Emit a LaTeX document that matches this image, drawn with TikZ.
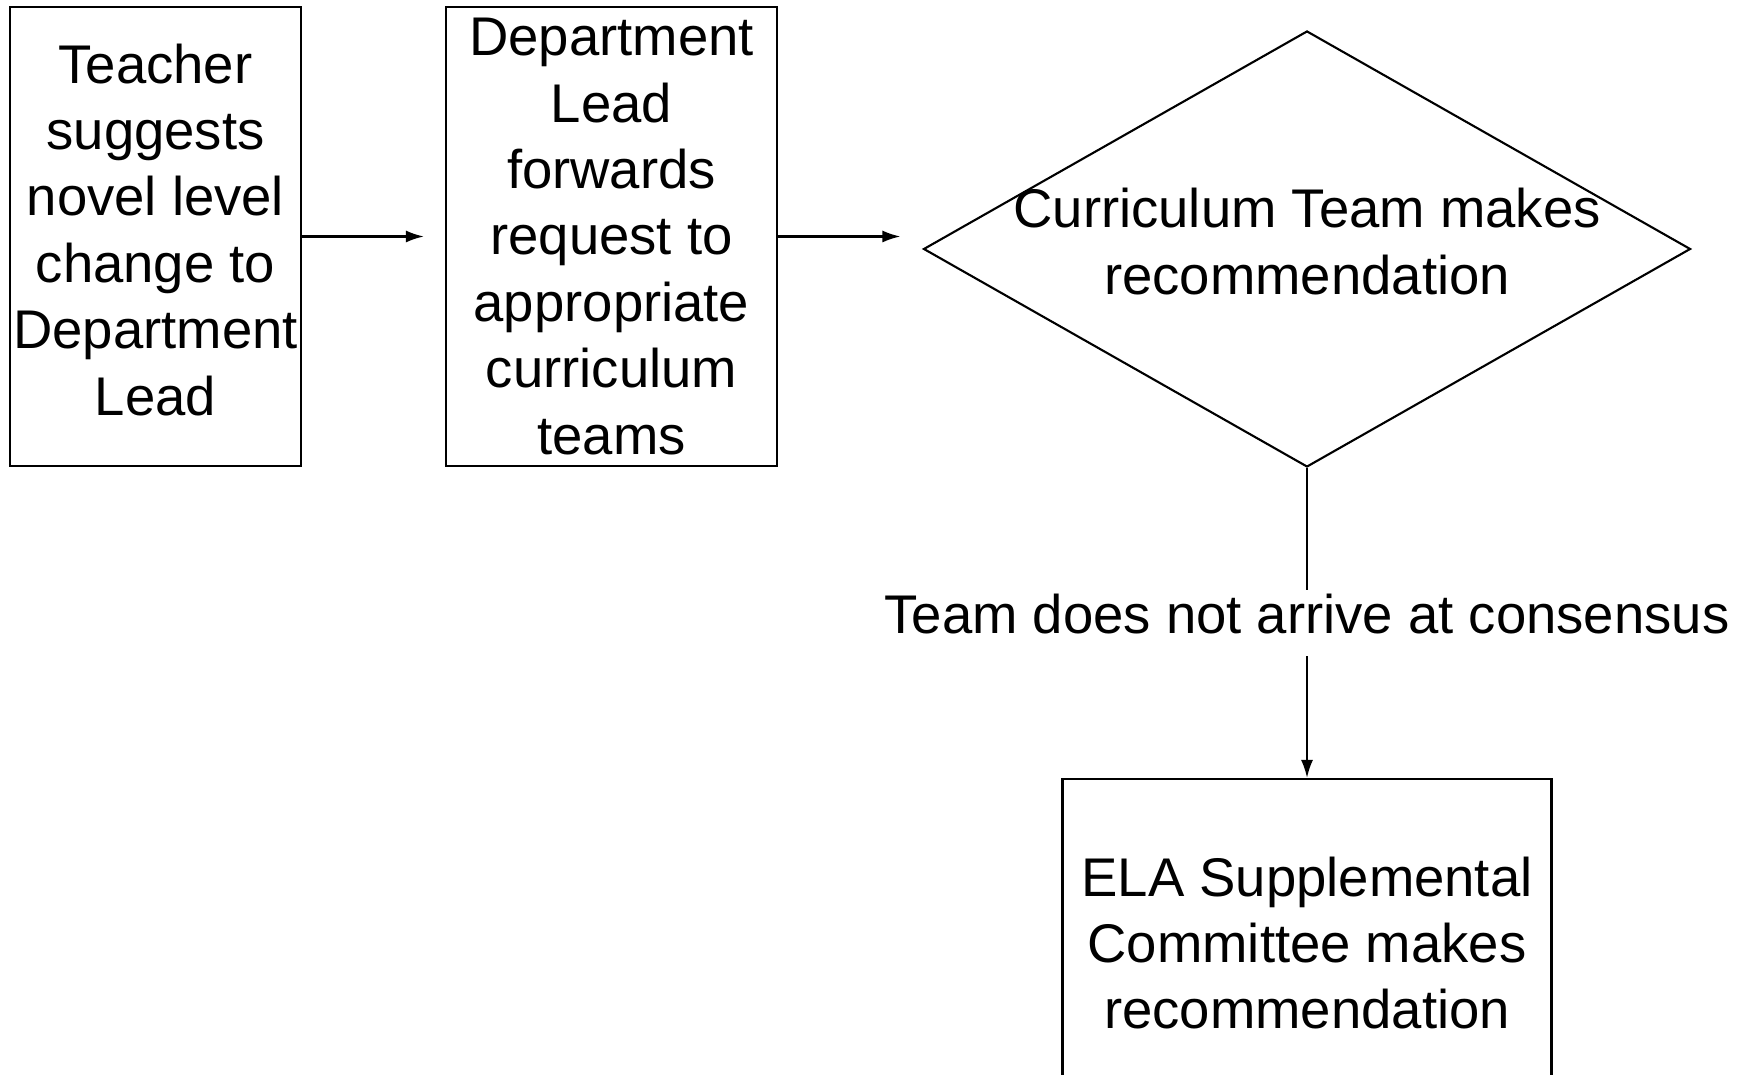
\documentclass[tikz,border=0pt]{standalone}
\usepackage{fontspec}
\setmainfont{Liberation Sans}
\usetikzlibrary{arrows.meta,shapes.geometric}

\begin{document}
\begin{tikzpicture}[
		every node/.style={font=\fontsize{15.5}{18.9}\selectfont},
		box/.style={draw, line width=0.6pt, inner sep=0pt, align=center},
		flow/.style={-{Latex[length=1.8mm,width=1.2mm]}, line width=0.6pt}
	]
		%%%%% START %%%%%
		
		\useasboundingbox (0, 0) rectangle (17.44, -10.75);
		\clip (0, 0) rectangle (17.44, -10.75);
		
		\node[box, minimum width=2.91cm, minimum height=4.59cm] (teacher) at (1.555, -2.365) {Teacher\\suggests\\novel level\\change to\\Department\\Lead\rule[-4pt]{0pt}{4pt}};
		\node[box, minimum width=3.31cm, minimum height=4.59cm] (lead) at (6.115, -2.365) {Department\\Lead\\forwards\\request to\\appropriate\\curriculum\\teams};
		
		\node[diamond, draw, line width=0.6pt, inner sep=0pt, minimum width=7.67cm, minimum height=4.36cm] (team) at (13.07, -2.49) {};
		\node[align=center] (teamtext) at (13.07, -2.415) {Curriculum Team makes\\recommendation};
		
		\node[box, minimum width=4.89cm, minimum height=3.28cm] (ela) at (13.07, -9.43) {ELA Supplemental\\Committee makes\\recommendation};
		
		\draw[flow, shorten >=2.1mm] (teacher.east) -- (lead.west);
		\draw[flow, shorten >=2.2mm] (lead.east) -- (lead.east -| team.west);
		\draw[flow] (team.south) -- node[fill=white, inner sep=0pt, text height=12.2pt, text depth=6.5pt] (consensus) {Team does not arrive at consensus} (ela.north);
		
		%%%%% END %%%%%
	\end{tikzpicture}
\end{document}
